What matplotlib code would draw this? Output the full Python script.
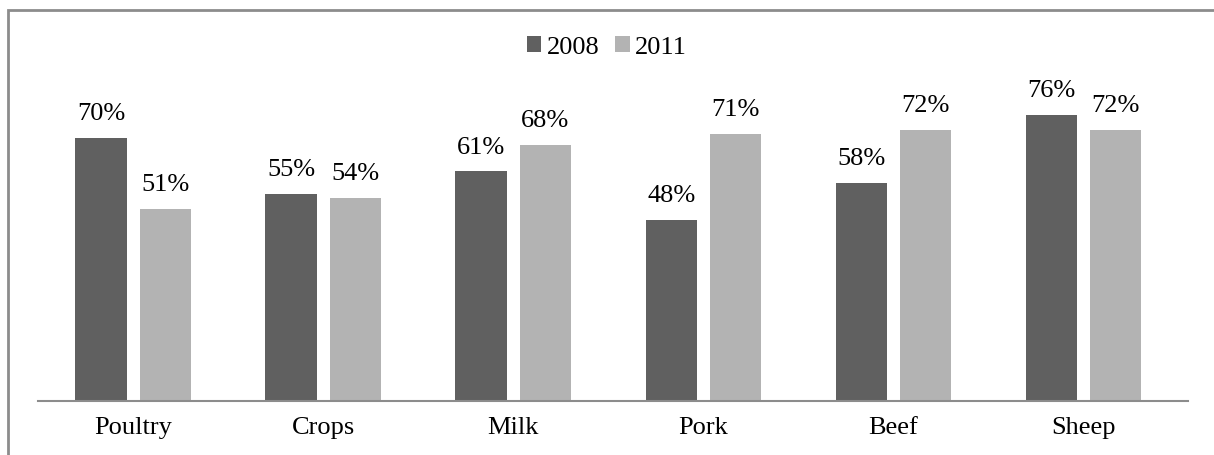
import matplotlib.pyplot as plt
import numpy as np
from matplotlib.patches import Rectangle

plt.rcParams['font.family'] = ['Liberation Serif', 'DejaVu Serif']

categories = ['Poultry', 'Crops', 'Milk', 'Pork', 'Beef', 'Sheep']
years = ['2008', '2011']
vals_2008 = [70, 55, 61, 48, 58, 76]
vals_2011 = [51, 54, 68, 71, 72, 72]

c_dark = '#606060'
c_light = '#b3b3b3'
fs = 19

W, H = 1214, 456
fig = plt.figure(figsize=(W / 100, H / 100), dpi=100)
ax = fig.add_axes([38 / W, (H - 402) / H, (1188 - 38) / W, (402 - 101) / H])

x = np.arange(len(categories))
w = 0.27
gap = 0.068
off = (w + gap) / 2
b1 = ax.bar(x - off, vals_2008, w, color=c_dark, label=years[0])
b2 = ax.bar(x + off, vals_2011, w, color=c_light, label=years[1])

for bars, vals in ((b1, vals_2008), (b2, vals_2011)):
    for b, v in zip(bars, vals):
        ax.text(b.get_x() + b.get_width() / 2, v + 3.7, '%d%%' % v,
                ha='center', va='bottom', fontsize=fs)

ax.set_xlim(-0.5, len(categories) - 0.5 + 0.05)
ax.set_ylim(0, 80)
ax.set_yticks([])
ax.set_xticks(x)
ax.set_xticklabels(categories, fontsize=fs)
ax.tick_params(axis='x', length=0, pad=11)
for s in ['top', 'right', 'left']:
    ax.spines[s].set_visible(False)
ax.spines['bottom'].set_color('#8c8c8c')
ax.spines['bottom'].set_linewidth(1.5)

fig.legend(loc='center', bbox_to_anchor=(0.5, (H - 48) / H), ncol=2, frameon=False,
           fontsize=fs, handlelength=0.55, handleheight=0.55, handletextpad=0.2,
           columnspacing=0.6)

fig.patches.append(Rectangle((7.5 / W, -0.1), 1.2, (H - 10.5) / H + 0.1,
                             transform=fig.transFigure, fill=False,
                             edgecolor='#8c8c8c', linewidth=2))

fig.savefig('out.png', dpi=100)
